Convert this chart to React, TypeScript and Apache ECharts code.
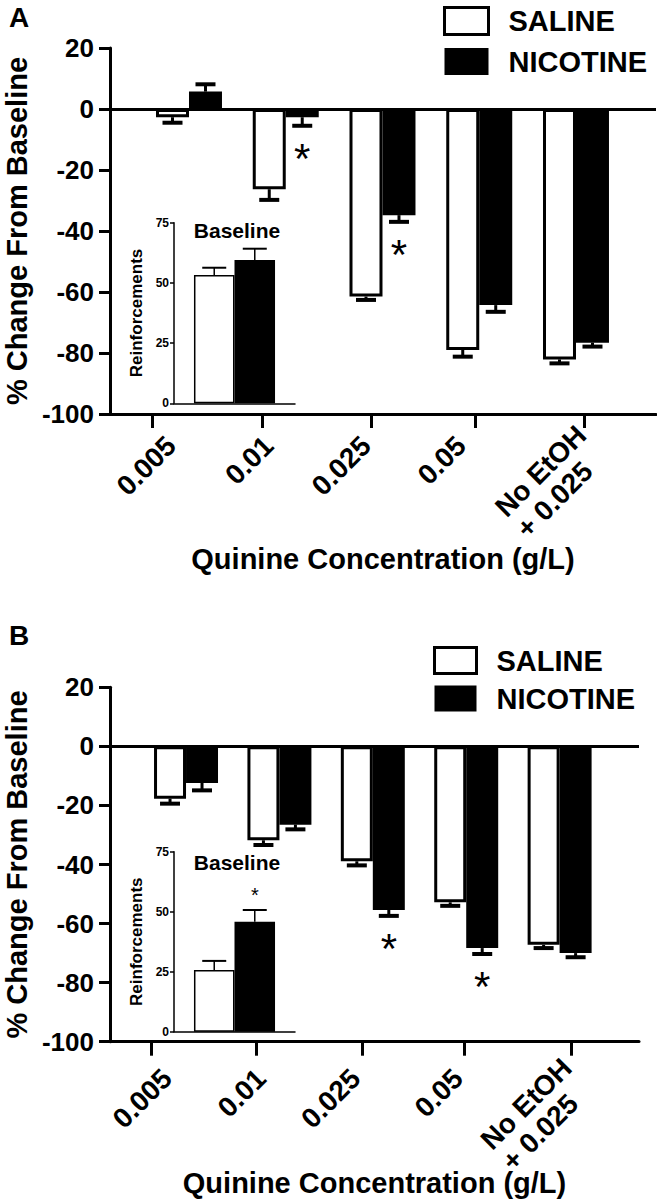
import React, { useEffect, useRef } from 'react';
import * as echarts from 'echarts';

// ---------------- data ----------------
const categories = ['0.005', '0.01', '0.025', '0.05', 'No EtOH\n+ 0.025'];
const groupNames = ['SALINE', 'NICOTINE'];
const yTitle = '% Change From Baseline';
const xTitle = 'Quinine Concentration (g/L)';
const insetTitle = 'Baseline';
const insetYTitle = 'Reinforcements';

// Panel A
const salineA = [-2.7, -26.3, -61.5, -79.0, -82.1];
const salineErrA = [1.8, 3.5, 1.1, 2.2, 1.3];
const salineSigA = [false, false, false, false, false];
const nicotineA = [5.7, -2.7, -34.8, -64.3, -76.6];
const nicotineErrA = [2.4, 2.8, 2.2, 2.2, 1.3];
const nicotineSigA = [false, true, true, false, false];
const baselineA = [53.3, 59.5];
const baselineErrA = [3.0, 4.7];
const baselineSigA = [false, false];

// Panel B
const salineB = [-17.7, -31.8, -38.9, -52.8, -67.2];
const salineErrB = [1.7, 1.6, 1.4, 1.2, 1.1];
const salineSigB = [false, false, false, false, false];
const nicotineB = [-12.4, -26.5, -55.4, -68.3, -70.0];
const nicotineErrB = [2.5, 1.6, 2.0, 2.0, 1.4];
const nicotineSigB = [false, false, true, true, false];
const baselineB = [25.7, 45.8];
const baselineErrB = [3.8, 4.9];
const baselineSigB = [false, true];

// ---------------- layout ----------------
const FONT = '"Liberation Sans", Arial, Helvetica, sans-serif';
const LABEL_FS = 28;

const panels = [
  {
    letter: 'A', letterTop: 3,
    grid: { left: 110, top: 48, width: 546, height: 366 },
    xMin: -0.8165, xMax: 4.827,
    tickPos: [-0.382, 0.755, 1.881, 2.956, 4.083],
    labelPos: [-0.186, 0.823, 1.829, 2.811, 4.165],
    labelMargin: 27, xNameGap: 130, gap: 0.318,
    legend: { left: 443, top: 6, w: 44, h: 27, gap: 11 },
    inset: { left: 174, top: 222.7, width: 121, height: 180.6 },
    insetTitleTop: 220,
    saline: salineA, salineErr: salineErrA, salineSig: salineSigA,
    nicotine: nicotineA, nicotineErr: nicotineErrA, nicotineSig: nicotineSigA,
    base: baselineA, baseErr: baselineErrA, baseSig: baselineSigA,
  },
  {
    letter: 'B', letterTop: 621,
    grid: { left: 110, top: 687.3, width: 529, height: 354.4 },
    xMin: -0.814, xMax: 4.85,
    tickPos: [-0.375, 0.749, 1.884, 2.976, 4.122],
    labelPos: [-0.203, 0.803, 1.814, 2.912, 4.191],
    labelMargin: 32, xNameGap: 127, gap: 0.315,
    legend: { left: 433, top: 646, w: 42, h: 26, gap: 9 },
    inset: { left: 174, top: 851.7, width: 121, height: 180 },
    insetTitleTop: 852,
    saline: salineB, salineErr: salineErrB, salineSig: salineSigB,
    nicotine: nicotineB, nicotineErr: nicotineErrB, nicotineSig: nicotineSigB,
    base: baselineB, baseErr: baselineErrB, baseSig: baselineSigB,
  },
];

function errRenderer(gapFrac: number, capW: number, lw: number, capLw: number, starSize: number, starOffset: number) {
  return (params: any, api: any) => {
    const x = api.value(0);
    const m = api.value(1);
    const e = api.value(2);
    const g = api.value(3);
    const s = api.value(4);
    const band = api.size([1, 0])[0];
    const bw = (band * (1 - gapFrac)) / 2;
    const p = api.coord([x, m]);
    const cx = p[0] + (g === 0 ? -bw / 2 : bw / 2);
    const end = m >= 0 ? m + e : m - e;
    const y1 = api.coord([x, end])[1];
    const dir = m >= 0 ? -1 : 1;
    const children: any[] = [
      { type: 'line', shape: { x1: cx, y1: p[1], x2: cx, y2: y1 }, style: { stroke: '#000', lineWidth: lw } },
      { type: 'line', shape: { x1: cx - capW / 2, y1: y1, x2: cx + capW / 2, y2: y1 }, style: { stroke: '#000', lineWidth: capLw } },
    ];
    if (s) {
      children.push({
        type: 'text', x: cx, y: y1 + dir * starOffset,
        style: { text: '*', fontSize: starSize, fontFamily: FONT, fill: '#000', align: 'center', verticalAlign: 'middle' },
      });
    }
    return { type: 'group', children };
  };
}

// multi-line category labels: lines left-aligned inside a box as wide as the longest line
function labelText(s: string) {
  const lines = s.split('\n');
  if (lines.length === 1) return s;
  return lines.map((l) => '{m|' + l + '}').join('\n');
}

function buildOption() {
  const grid: any[] = [];
  const xAxis: any[] = [];
  const yAxis: any[] = [];
  const series: any[] = [];
  const legend: any[] = [];
  const title: any[] = [];

  panels.forEach((P) => {
    const gMain = grid.length;
    grid.push({ ...P.grid, containLabel: false, outerBoundsMode: 'none' });
    const gIn = grid.length;
    grid.push({ ...P.inset, containLabel: false, outerBoundsMode: 'none' });

    xAxis.push({
      type: 'value', gridIndex: gMain, min: P.xMin, max: P.xMax,
      axisLine: { show: true, onZero: false, lineStyle: { color: '#000', width: 3 } },
      axisTick: { show: true, inside: false, length: 14, customValues: P.tickPos, lineStyle: { color: '#000', width: 3 } },
      axisLabel: {
        show: true, customValues: P.labelPos, rotate: 45, margin: P.labelMargin,
        fontSize: LABEL_FS, fontWeight: 'bold', fontFamily: FONT, color: '#000', lineHeight: 30,
        formatter: (v: number) => {
          const i = P.labelPos.findIndex((q) => Math.abs(q - v) < 1e-6);
          return i >= 0 ? labelText(categories[i]) : '';
        },
        rich: {
          m: {
            fontSize: LABEL_FS, fontWeight: 'bold', fontFamily: FONT, color: '#000',
            lineHeight: 30, align: 'left',
          },
        },
      },
      splitLine: { show: false },
      name: xTitle, nameLocation: 'middle', nameGap: P.xNameGap, nameMoveOverlap: false,
      nameTextStyle: { fontSize: 29, fontWeight: 'bold', fontFamily: FONT, color: '#000' },
    });
    yAxis.push({
      type: 'value', gridIndex: gMain, min: -100, max: 20, interval: 20,
      axisLine: { show: true, onZero: false, lineStyle: { color: '#000', width: 3 } },
      axisTick: { show: true, inside: false, length: 11, lineStyle: { color: '#000', width: 3 } },
      axisLabel: { fontSize: 26, fontWeight: 'bold', fontFamily: FONT, color: '#000', margin: 16 },
      splitLine: { show: false },
      name: yTitle, nameLocation: 'middle', nameGap: 79, nameRotate: 90, nameMoveOverlap: false,
      nameTextStyle: { fontSize: 29, fontWeight: 'bold', fontFamily: FONT, color: '#000' },
    });
    const xMainIdx = xAxis.length - 1;
    const yMainIdx = yAxis.length - 1;

    xAxis.push({
      type: 'category', gridIndex: gIn, data: [insetTitle],
      axisLine: { show: true, onZero: false, lineStyle: { color: '#000', width: 1.5 } },
      axisTick: { show: false }, axisLabel: { show: false }, splitLine: { show: false },
    });
    yAxis.push({
      type: 'value', gridIndex: gIn, min: 0, max: 75, interval: 25,
      axisLine: { show: true, lineStyle: { color: '#000', width: 1.5 } },
      axisTick: { show: true, inside: false, length: 4, lineStyle: { color: '#000', width: 1.5 } },
      axisLabel: { fontSize: 12, fontWeight: 'bold', fontFamily: FONT, color: '#000', margin: 5 },
      splitLine: { show: false },
      name: insetYTitle, nameLocation: 'middle', nameGap: 29, nameRotate: 90, nameMoveOverlap: false,
      nameTextStyle: { fontSize: 17, fontWeight: 'bold', fontFamily: FONT, color: '#000' },
    });
    const xInIdx = xAxis.length - 1;
    const yInIdx = yAxis.length - 1;

    const gapStr = (P.gap * 100).toFixed(1) + '%';

    series.push({
      type: 'bar', name: groupNames[0], xAxisIndex: xMainIdx, yAxisIndex: yMainIdx,
      data: P.saline.map((v, i) => [i, v]), barGap: '0%', barCategoryGap: gapStr,
      itemStyle: { color: '#fff', borderColor: '#000', borderWidth: 3 }, silent: true, z: 3,
      markLine: {
        silent: true, symbol: ['none', 'none'], label: { show: false },
        lineStyle: { color: '#000', width: 3, type: 'solid' }, data: [{ yAxis: 0 }],
      },
    });
    series.push({
      type: 'bar', name: groupNames[1], xAxisIndex: xMainIdx, yAxisIndex: yMainIdx,
      data: P.nicotine.map((v, i) => [i, v]), barGap: '0%', barCategoryGap: gapStr,
      itemStyle: { color: '#000' }, silent: true, z: 3,
    });
    const errData: any[] = [];
    P.saline.forEach((v, i) => errData.push([i, v, P.salineErr[i], 0, P.salineSig[i] ? 1 : 0]));
    P.nicotine.forEach((v, i) => errData.push([i, v, P.nicotineErr[i], 1, P.nicotineSig[i] ? 1 : 0]));
    series.push({
      type: 'custom', name: 'err' + P.letter, xAxisIndex: xMainIdx, yAxisIndex: yMainIdx,
      renderItem: errRenderer(P.gap, 20, 3, 4, 42, 33), data: errData, silent: true, z: 2,
      encode: { x: 0, y: 1 },
    });

    series.push({
      type: 'bar', name: groupNames[0], xAxisIndex: xInIdx, yAxisIndex: yInIdx,
      data: [P.base[0]], barGap: '0%', barCategoryGap: '33%',
      itemStyle: { color: '#fff', borderColor: '#000', borderWidth: 1.5 }, silent: true, z: 3,
    });
    series.push({
      type: 'bar', name: groupNames[1], xAxisIndex: xInIdx, yAxisIndex: yInIdx,
      data: [P.base[1]], barGap: '0%', barCategoryGap: '33%',
      itemStyle: { color: '#000' }, silent: true, z: 3,
    });
    series.push({
      type: 'custom', name: 'errIn' + P.letter, xAxisIndex: xInIdx, yAxisIndex: yInIdx,
      renderItem: errRenderer(0.33, 24, 1.5, 2, 20, 15),
      data: P.base.map((v, g) => [0, v, P.baseErr[g], g, P.baseSig[g] ? 1 : 0]),
      silent: true, z: 2, encode: { x: 0, y: 1 },
    });

    legend.push({
      left: P.legend.left, top: P.legend.top, orient: 'vertical', icon: 'rect', padding: 0,
      itemWidth: P.legend.w, itemHeight: P.legend.h, itemGap: P.legend.gap,
      selectedMode: false,
      textStyle: { fontSize: 29, fontWeight: 'bold', fontFamily: FONT, color: '#000', padding: [0, 0, 0, 15] },
      data: [
        { name: groupNames[0], itemStyle: { color: '#fff', borderColor: '#000', borderWidth: 3 } },
        { name: groupNames[1], itemStyle: { color: '#000', borderColor: '#000', borderWidth: 0 } },
      ],
    });

    title.push({
      text: P.letter, left: 9, top: P.letterTop, padding: 0,
      textStyle: { fontSize: 28, fontWeight: 'bold', fontFamily: FONT, color: '#000' },
    });
    title.push({
      text: insetTitle, left: 237, top: P.insetTitleTop, textAlign: 'center', padding: 0,
      textStyle: { fontSize: 21, fontWeight: 'bold', fontFamily: FONT, color: '#000' },
    });
  });

  return {
    animation: false,
    backgroundColor: '#fff',
    title, legend, grid, xAxis, yAxis, series,
  };
}

export default function App() {
  const ref = useRef<HTMLDivElement>(null);
  useEffect(() => {
    if (!ref.current) return;
    const chart = echarts.init(ref.current, null, { renderer: 'svg' });
    chart.setOption(buildOption() as any);
    return () => chart.dispose();
  }, []);
  return (
    <div
      ref={ref}
      style={{ position: 'absolute', left: 0, top: 0, width: 657, height: 1199 }}
    />
  );
}
